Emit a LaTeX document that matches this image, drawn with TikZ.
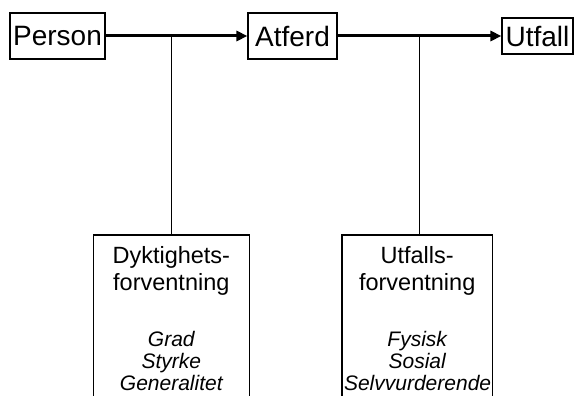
\documentclass[tikz,border=0pt]{standalone}
\usepackage{fontspec}
\setmainfont{Liberation Sans}
\usetikzlibrary{arrows.meta}
\begin{document}
\begin{tikzpicture}[x=1pt,y=-1pt,
  topbox/.style={draw,line width=1.1pt,inner sep=0pt,font=\fontsize{28}{32}\selectfont},
  flow/.style={line width=3pt,-{Triangle[length=11pt,width=10pt]}},
  link/.style={line width=0.9pt},
  openbox/.style={line width=1.1pt},
  headline/.style={anchor=base,inner sep=0pt,font=\fontsize{23.5}{27}\selectfont},
  itemline/.style={anchor=base,inner sep=0pt,font=\fontsize{21}{22}\selectfont\itshape}]
\useasboundingbox (0,0) rectangle (574,396);

% main chain
\node[topbox,minimum width=95pt,minimum height=46pt] (person) at (57.5,36) {Person};
\node[topbox,minimum width=89pt,minimum height=46pt] (atferd) at (292.5,36) {Atferd};
\node[topbox,minimum width=71pt,minimum height=36pt] (utfall) at (537.5,36) {Utfall};
\draw[flow] (person.east) -- (atferd.west);
\draw[flow] (atferd.east) -- (utfall.west);

% junctions on the arrows and tops of the expectation boxes
\coordinate (j1) at (171.5,34.5);
\coordinate (j2) at (419,34.5);
\coordinate (dtop) at (171.5,235);
\coordinate (utop) at (419,235);
\draw[link] (j1) -- (dtop);
\draw[link] (j2) -- (utop);

% boxes open at the lower edge
\draw[openbox] (93.3,396) -- (93.3,235) -- (249.3,235) -- (249.3,396);
\draw[openbox] (342,396) -- (342,235) -- (492.3,235) -- (492.3,396);

% mastery expectation
\node[headline] (d1) at (171.3,263) {Dyktighets-};
\node[headline] (d2) at (171.3,290) {forventning};
\node[itemline] (d3) at (171.3,346) {Grad};
\node[itemline] (d4) at (171.3,368) {Styrke};
\node[itemline] (d5) at (171.3,390) {Generalitet};

% outcome expectation
\node[headline] (u1) at (417.2,263) {Utfalls-};
\node[headline] (u2) at (417.2,290) {forventning};
\node[itemline] (u3) at (417.2,346) {Fysisk};
\node[itemline] (u4) at (417.2,368) {Sosial};
\node[itemline] (u5) at (417.6,390) {Selvvurderende};
\end{tikzpicture}
\end{document}
